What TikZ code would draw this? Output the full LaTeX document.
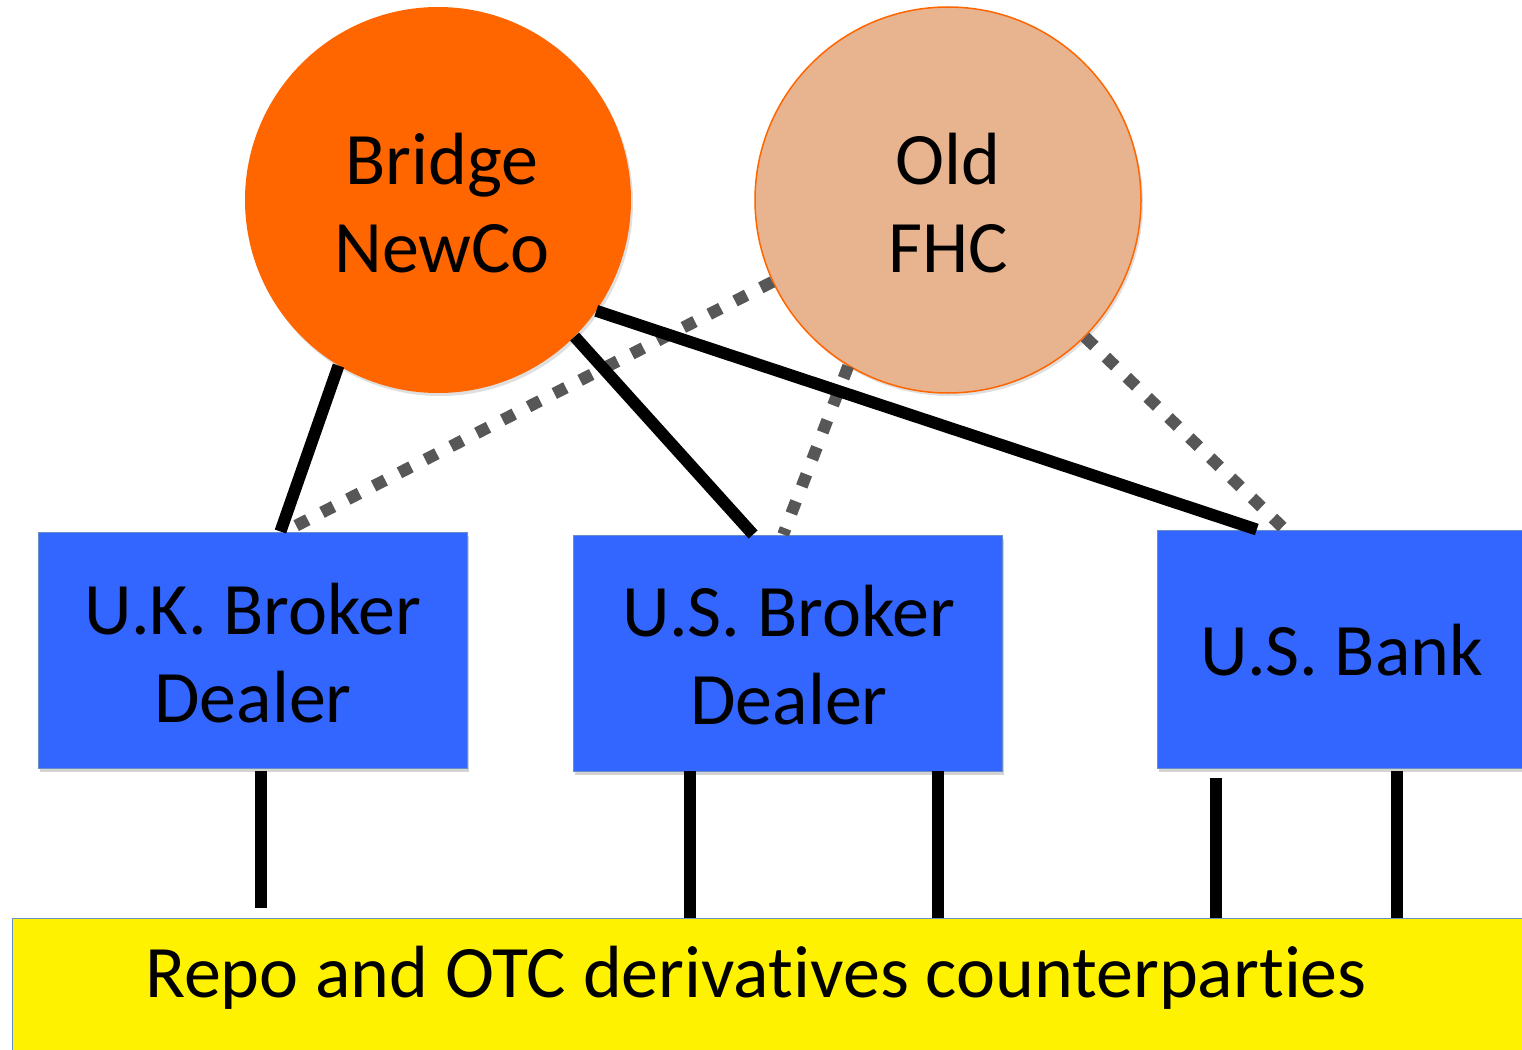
\documentclass[tikz,border=0pt]{standalone}
\usepackage{fontspec}
\setmainfont{Carlito}[Ligatures={NoCommon}]
\usetikzlibrary{shadows,calc}
\definecolor{bridgeorange}{HTML}{FF6600}
\definecolor{oldfhc}{HTML}{E8B38F}
\definecolor{boxblue}{HTML}{3366FF}
\definecolor{boxedge}{HTML}{6A8FC8}
\definecolor{dotgray}{HTML}{575757}
\tikzset{
  lbl/.style={font=\fontsize{74}{88}\selectfont, align=center, text=black, inner sep=0pt},
  firm/.style={circle, minimum size=386pt, inner sep=0pt,
    drop shadow={opacity=0.25, shadow xshift=2pt, shadow yshift=-3pt}},
  entity/.style={rectangle, draw=boxedge, line width=1pt, fill=boxblue, inner sep=0pt,
    drop shadow={opacity=0.35, shadow xshift=2pt, shadow yshift=-4pt}},
  own/.style={line width=12pt, black},
  oldlink/.style={line width=12pt, dotgray, dash pattern=on 13pt off 16pt},
}
\begin{document}
\begin{tikzpicture}[x=1pt, y=-1pt]
\useasboundingbox (0,0) rectangle (1522,1049);
% shapes
\node[firm, fill=bridgeorange] (bridge) at (438,200) {};
\node[firm, fill=oldfhc, draw=bridgeorange, line width=1.5pt] (old) at (948,200) {};
\node[entity, minimum width=429pt, minimum height=236pt] (uk) at (252.5,650) {};
\node[entity, minimum width=429pt, minimum height=236pt] (usbd) at (787.5,653) {};
\node[entity, minimum width=400pt, minimum height=238pt] (bank) at (1357,649) {};
\node[entity, fill=yellow, minimum width=1540pt, minimum height=160pt] (cpty) at (782,998) {};
% labels
\node[lbl] (bridgeT) at (442,203) {Bridge\\NewCo};
\node[lbl] (oldT) at (948,203) {Old\\FHC};
\node[lbl] (ukT) at (253,653) {U.K. Broker\\Dealer};
\node[lbl] (usbdT) at (789,655) {U.S. Broker\\Dealer};
\node[lbl, anchor=base] (bankT) at (1342,675) {U.S. Bank};
\node[lbl, anchor=base] (cptyT) at (756,997) {Repo and OTC derivatives counterparties};
% attachment coordinates
\coordinate (ukTopA) at ($(uk.north west)!0.565!(uk.north east)$);
\coordinate (ukTopB) at ($(uk.north west)!0.575!(uk.north east)$);
\coordinate (bdTopA) at ($(usbd.north west)!0.42!(usbd.north east)$);
\coordinate (bdTopB) at ($(usbd.north west)!0.49!(usbd.north east)$);
\coordinate (bkTopA) at ($(bank.north west)!0.25!(bank.north east)$);
\coordinate (bkTopB) at ($(bank.north west)!0.32!(bank.north east)$);
\coordinate (ukBot) at (261,771);
\coordinate (ukCp) at (261,908);
\coordinate (bdBot1) at (690,771);
\coordinate (bdCp1) at (690,918);
\coordinate (bdBot2) at (938,771);
\coordinate (bdCp2) at (938,918);
\coordinate (bkBot1) at (1216,778);
\coordinate (bkCp1) at (1216,918);
\coordinate (bkBot2) at (1397,771);
\coordinate (bkCp2) at (1397,918);
% dotted links from Old FHC (behind)
\draw[oldlink] (old.205) -- (ukTopB);
\draw[oldlink] (old.239) -- (bdTopB);
\draw[oldlink] (old.-45) -- (bkTopB);
% solid links from Bridge NewCo
\draw[own] (bridge.-121) -- (ukTopA);
\draw[own] (bridge.-45) -- (bdTopA);
\draw[own] (bridge.-35) -- (bkTopA);
% links to counterparties
\draw[own] (ukBot) -- (ukCp);
\draw[own] (bdBot1) -- (bdCp1);
\draw[own] (bdBot2) -- (bdCp2);
\draw[own] (bkBot1) -- (bkCp1);
\draw[own] (bkBot2) -- (bkCp2);
\end{tikzpicture}
\end{document}
